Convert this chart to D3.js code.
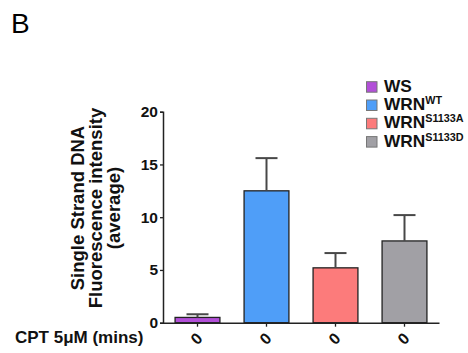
<!DOCTYPE html>
<html>
<head>
<meta charset="utf-8">
<script src="https://cdn.jsdelivr.net/npm/d3@7"></script>
<style>
  body { margin: 0; background: #fff; }
  text { font-family: "Liberation Sans", Arial, sans-serif; }
</style>
</head>
<body>
<svg id="chart" width="468" height="353"></svg>
<script>
// data
const groups = ["WS", "WRN_WT", "WRN_S1133A", "WRN_S1133D"];
const means = [0.5, 12.5, 5.2, 7.75];
const errors = [0.3, 3.1, 1.4, 2.45];
const xTickLabels = ["0", "0", "0", "0"];
const yTicks = [0, 5, 10, 15, 20];
const colors = ["#b24fd8", "#4f9ef8", "#fc7b7b", "#a1a0a5"];
const legendNames = [["WS", ""], ["WRN", "WT"], ["WRN", "S1133A"], ["WRN", "S1133D"]];

const svg = d3.select("#chart");

const x = d3.scaleBand().domain(groups).range([163, 439]).paddingInner(0.35).paddingOuter(0.175);
const y = d3.scaleLinear().domain([0, 20]).range([322.7, 111.7]);

// panel letter
svg.append("text").attr("x", 11).attr("y", 33)
    .style("font-size", "28px").text("B");

// bars
svg.append("g").selectAll("rect")
    .data(groups)
    .enter().append("rect")
    .attr("x", d => x(d))
    .attr("y", (d, i) => y(means[i]))
    .attr("width", x.bandwidth())
    .attr("height", (d, i) => y(0) - y(means[i]))
    .attr("fill", (d, i) => colors[i])
    .attr("stroke", "#222")
    .attr("stroke-width", 1.3);

// error bars (upper only)
const err = svg.append("g").attr("stroke", "#484848").attr("stroke-width", 2);
groups.forEach((g, i) => {
    const cx = x(g) + x.bandwidth() / 2;
    err.append("line").attr("x1", cx).attr("x2", cx)
        .attr("y1", y(means[i])).attr("y2", y(means[i] + errors[i]));
    err.append("line").attr("x1", cx - 11).attr("x2", cx + 11)
        .attr("y1", y(means[i] + errors[i])).attr("y2", y(means[i] + errors[i]));
});

// y axis
const yAxis = svg.append("g").attr("transform", "translate(163,0)")
    .call(d3.axisLeft(y).tickValues(yTicks).tickSize(3).tickPadding(2));
yAxis.select(".domain").attr("stroke", "#222").attr("stroke-width", 1.5);
yAxis.selectAll(".tick line").attr("stroke", "#222").attr("stroke-width", 1.3);
yAxis.selectAll("text").style("font-size", "15.5px").style("font-weight", "bold").attr("fill", "#111");

// x axis
const xAxis = svg.append("g").attr("transform", "translate(0,322.7)")
    .call(d3.axisBottom(x).tickSize(4).tickSizeOuter(0).tickFormat((d, i) => xTickLabels[i]));
xAxis.select(".domain").attr("stroke", "#222").attr("stroke-width", 1.5);
xAxis.selectAll(".tick line").attr("stroke", "#222").attr("stroke-width", 1.3);
xAxis.selectAll("text")
    .style("font-size", "16px").style("font-weight", "bold").attr("fill", "#111")
    .attr("text-anchor", "middle").attr("dy", null).attr("y", 0)
    .attr("transform", "translate(-1,16) rotate(-45)")
    .attr("dominant-baseline", "central");

// x axis title
svg.append("text").attr("x", 15).attr("y", 342.5)
    .style("font-size", "17px").style("font-weight", "bold").attr("fill", "#111")
    .text("CPT 5\u03bcM (mins)");

// y axis title
const yTitle = svg.append("text")
    .attr("transform", "translate(0,208) rotate(-90)")
    .attr("text-anchor", "middle")
    .style("font-size", "18.5px").style("font-weight", "bold").attr("fill", "#111");
["Single Strand DNA", "Fluorescence intensity", "(average)"].forEach((t, i) => {
    yTitle.append("tspan").attr("x", 0).attr("y", 84 + i * 18).text(t);
});

// legend
const legend = svg.append("g");
legendNames.forEach((n, i) => {
    const ly = 91.7 + i * 18.3;
    legend.append("rect").attr("x", 366.5).attr("y", ly - 10)
        .attr("width", 10.5).attr("height", 10.5)
        .attr("fill", colors[i]).attr("stroke", "#777").attr("stroke-width", 1);
    const t = legend.append("text")
        .attr("transform", `translate(384,${ly}) scale(1.08,1)`)
        .style("font-size", "16px").style("font-weight", "bold").attr("fill", "#111");
    t.append("tspan").text(n[0]);
    if (n[1]) t.append("tspan").attr("dy", -6).style("font-size", "10px").text(n[1]);
});
</script>
</body>
</html>
